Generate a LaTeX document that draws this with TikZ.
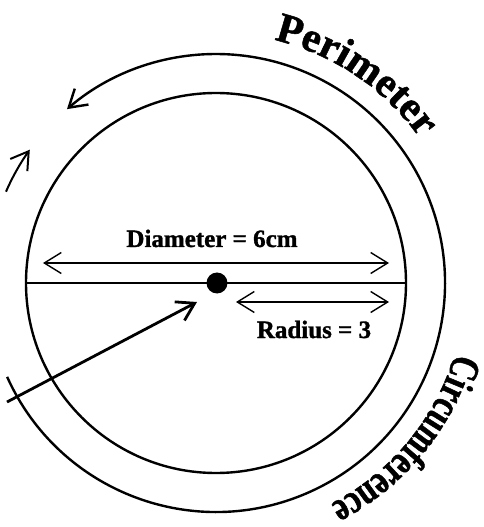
\documentclass[tikz,border=0pt]{standalone}
\usepackage{fontspec}
\setmainfont{Liberation Serif}
\newfontfamily\heavyfont{Liberation Serif Bold}[FakeBold=1.2]
\newfontfamily\condfont{Liberation Serif Bold}[FakeStretch=0.75, FakeBold=1.2]
\usetikzlibrary{arrows.meta,decorations.text}
\tikzset{
  ring/.style={draw=black, line width=2.4pt},
  chord/.style={draw=black, line width=2.2pt},
  thinarrow/.style={draw=black, line width=1.4pt},
  barbtip/.tip={Straight Barb[length=17pt,width=21pt]},
  lbl/.style={font=\heavyfont\fontsize{25}{28}\selectfont, inner sep=0pt, anchor=base},
  curvedtext/.style={decorate, decoration={text along path, text align=center, text={#1}}}
}
\begin{document}
\begin{tikzpicture}[x=1pt,y=1pt]
\useasboundingbox (-216,-244) rectangle (267,283);
\coordinate (O) at (0,0);
% inner circle
\draw[ring] (O) circle[radius=190pt];
% outer arc with arrow
\draw[ring, -{barbtip}] (204.2:229pt) arc[start angle=204.2, end angle=490.6, radius=229pt];
% small arrow at left
\draw[thinarrow, line width=2pt, -{barbtip}] (156.5:229pt) arc[start angle=156.5, end angle=144.4, radius=229pt];
% diameter line
\coordinate (dl) at (180:190pt);
\coordinate (dr) at (0:190pt);
\draw[chord] (dl) -- (dr);
% centre dot
\node[circle, fill=black, minimum size=21pt, inner sep=0pt] (dot) at (1,0) {};
% diameter arrow
\coordinate (da) at (-173,20);
\coordinate (db) at (173,20);
\draw[thinarrow, {barbtip}-{barbtip}] (da) -- (db);
% radius arrow
\coordinate (ra) at (20,-19);
\coordinate (rb) at (173,-19);
\draw[thinarrow, {barbtip}-{barbtip}] (ra) -- (rb);
% pointer arrow from lower left
\coordinate (pt) at (-209,-119);
\coordinate (ph) at (-19,-19);
\draw[thinarrow, line width=2.8pt, -{barbtip}] (pt) -- (ph);
% labels
\node[lbl] (diam) at (-4,36) {Diameter = 6cm};
\node[lbl] (rad) at (98,-55) {Radius = 3};
% curved texts
\path[curvedtext={|\heavyfont\fontsize{42}{42}\selectfont|Perimeter}]
  (82:250pt) arc[start angle=82, end angle=30, radius=250pt];
\path[curvedtext={|\condfont\fontsize{42}{42}\selectfont|Circumference}]
  (2:249pt) arc[start angle=2, end angle=-81, radius=249pt];
\end{tikzpicture}
\end{document}
